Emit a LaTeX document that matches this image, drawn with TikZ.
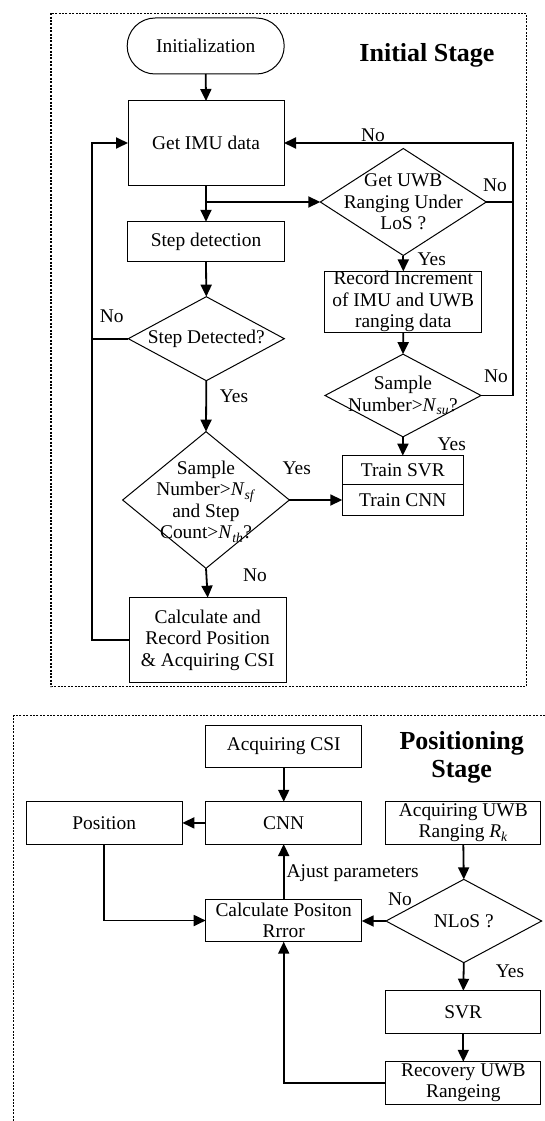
\documentclass[tikz,border=0pt]{standalone}
\usepackage{fontspec}
\setmainfont{Liberation Serif}
\usetikzlibrary{arrows.meta,shapes.geometric}
\begin{document}
\begin{tikzpicture}[x=1pt,y=-1pt,
  every node/.style={font=\fontsize{19.4}{21.5}\selectfont, inner sep=0pt, outer sep=0pt},
  box/.style={draw, line width=1pt, rectangle, align=center},
  dia/.style={draw, line width=1pt, diamond},
  term/.style={draw, line width=1pt, rectangle, rounded corners=27.9pt, align=center},
  conn/.style={line width=1.8pt, -{Triangle[length=12pt,width=11pt]}},
  plain/.style={line width=1.8pt},
  stage/.style={dash pattern=on 2pt off 1.4pt, line width=1.2pt},
  title/.style={font=\fontsize{26}{28.4}\selectfont\bfseries, align=center},
  dtext/.style={align=center}]
\useasboundingbox (0,0) rectangle (545,1121);

% ---------- Initial stage ----------
\draw[stage] (51,13.3) rectangle (526.5,686.7);
\node[title] (t1) at (427,55) {Initial Stage};

\node[term, minimum width=157pt, minimum height=56pt] (init) at (205.7,46) {Initialization};
\node[box, minimum width=156pt, minimum height=84pt] (imu) at (206,143) {Get IMU data};
\node[box, minimum width=157pt, minimum height=39.5pt] (stepdet) at (206,241.5) {Step detection};
\node[dia, minimum width=156pt, minimum height=84pt] (d2) at (206.3,338.7) {};
\node[dtext] (d2t) at (d2) {Step Detected?};
\node[dia, minimum width=166.7pt, minimum height=136.7pt] (d4) at (206,500) {};
\node[dtext] (d4t) at (206,501.6) {Sample\\Number\textgreater\textit{N}\textsubscript{\textit{sf}}\\and Step\\Count\textgreater\textit{N}\textsubscript{\textit{th}}?};
\node[box, minimum width=156.7pt, minimum height=84.7pt] (calc) at (207.7,640) {Calculate and\\Record Position\\\& Acquiring CSI};

\node[dia, minimum width=166pt, minimum height=107pt] (d1) at (403.3,202) {};
\node[dtext] (d1t) at (d1) {Get UWB\\Ranging Under\\LoS ?};
\node[box, minimum width=156.7pt, minimum height=58.7pt] (rec) at (403.3,301.7) {Record Increment\\of IMU and UWB\\ranging data};
\node[dia, minimum width=156pt, minimum height=82.7pt] (d3) at (403,395.5) {};
\node[dtext] (d3t) at (d3) {Sample\\Number\textgreater\textit{N}\textsubscript{\textit{su}}?};
\node[box, minimum width=121pt, minimum height=29.3pt] (trainsvr) at (402.8,470.3) {Train SVR};
\node[box, minimum width=121pt, minimum height=30.7pt] (traincnn) at (402.8,500.3) {Train CNN};

\coordinate (br) at (206,202);
\coordinate (lj) at (91.7,143);
\coordinate (rj) at (512.7,143);

\draw[conn] (init.south) -- (imu.north);
\draw[conn] (imu.south) -- (stepdet.north);
\draw[conn] (br) -- (d1.west);
\draw[conn] (stepdet.south) -- (d2.north);
\draw[conn] (d2.south) -- (d4.north);
\draw[plain] (d2.west) -- (d2.west -| lj);
\draw[conn] (calc.west) -| (lj) -- (imu.west);
\draw[conn] (d4.east) -- (d4.east -| traincnn.west);
\draw[conn] (d4.south) -- (calc.north);
\draw[conn] (d1.south) -- (rec.north);
\draw[plain] (d1.east) -- (d1.east -| rj);
\draw[conn] (rec.south) -- (d3.north);
\draw[conn] (d3.south) -- (trainsvr.north);
\draw[conn] (d3.east) -| (rj) -- (imu.east);

\node (l1) at (373,135) {No};
\node (l2) at (495,185) {No};
\node (l3) at (431.7,259.3) {Yes};
\node (l4) at (496,376.7) {No};
\node (l5) at (451.7,444) {Yes};
\node (l6) at (111.7,316.7) {No};
\node (l7) at (234,396.7) {Yes};
\node (l8) at (296.7,468) {Yes};
\node (l9) at (255,575) {No};

% ---------- Positioning stage ----------
\draw[stage] (545,715.7) -- (13.3,715.7) -- (13.3,1121);
\node[title] (t2) at (461.7,757.5) {Positioning\\Stage};

\node[box, minimum width=156pt, minimum height=42.3pt] (csi) at (283.7,746.2) {Acquiring CSI};
\node[box, minimum width=156pt, minimum height=42.3pt] (cnn) at (283.7,822.9) {CNN};
\node[box, minimum width=156.3pt, minimum height=42.3pt] (pos) at (104.2,822.9) {Position};
\node[box, minimum width=155.3pt, minimum height=42.3pt] (uwb) at (463.3,822.9) {Acquiring UWB\\Ranging \textit{R}\textsubscript{\textit{k}}};
\node[box, minimum width=156pt, minimum height=42.4pt] (cpe) at (283.7,920.5) {Calculate Positon\\Rrror};
\node[dia, minimum width=155.7pt, minimum height=83.3pt] (nlos) at (463.8,921) {};
\node[dtext] (nlost) at (nlos) {NLoS ?};
\node[box, minimum width=155.3pt, minimum height=42.6pt] (svr) at (463.3,1012) {SVR};
\node[box, minimum width=155.3pt, minimum height=42.3pt] (recv) at (463.3,1082.9) {Recovery UWB\\Rangeing};

\draw[conn] (csi.south) -- (cnn.north);
\draw[conn] (cnn.west) -- (pos.east);
\draw[conn] (pos.south) |- (cpe.west);
\draw[conn] (cpe.north) -- (cnn.south);
\draw[conn] (uwb.south) -- (nlos.north);
\draw[conn] (nlos.west) -- (nlos.west -| cpe.east);
\draw[conn] (nlos.south) -- (svr.north);
\draw[conn] (svr.south) -- (recv.north);
\draw[conn] (recv.west) -| (cpe.south);

\node[anchor=west] (l10) at (286.7,873.3) {Ajust parameters};
\node (l11) at (400,899.3) {No};
\node (l12) at (510,971.7) {Yes};
\end{tikzpicture}
\end{document}
